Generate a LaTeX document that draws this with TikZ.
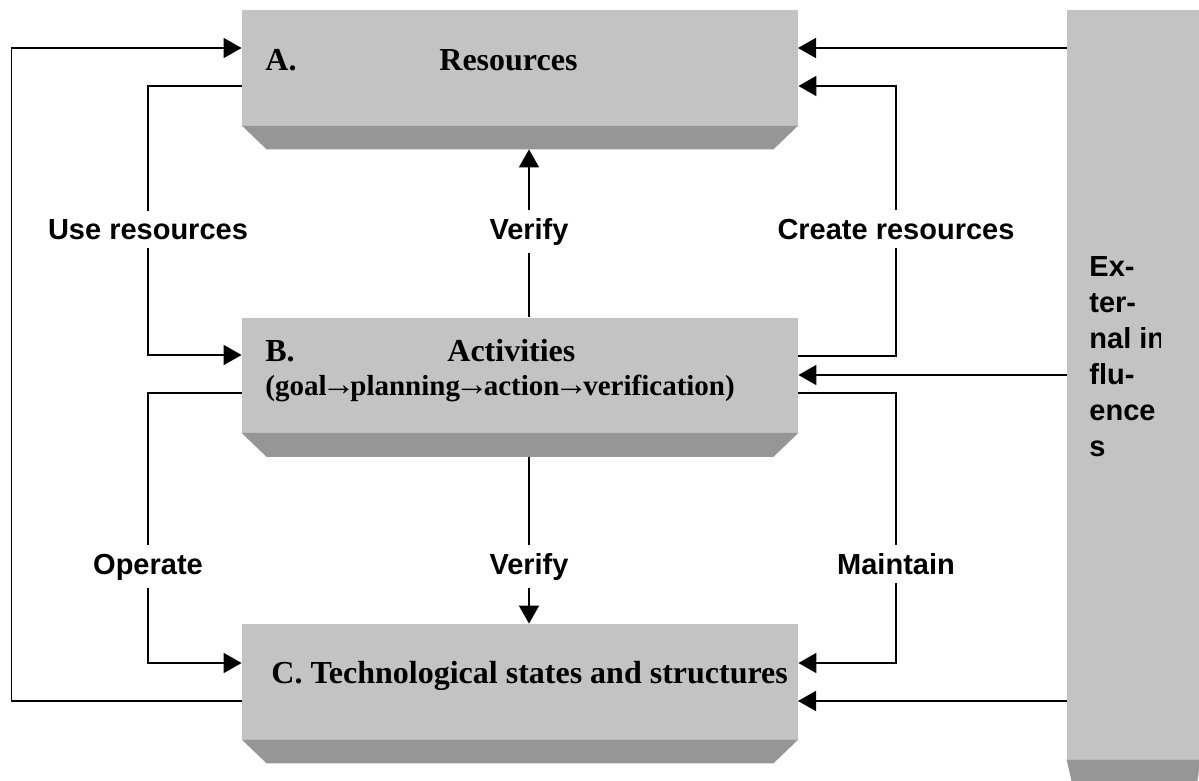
\documentclass[tikz,border=0pt]{standalone}
\usepackage{fontspec}
\setmainfont{Liberation Serif}
\setsansfont{Liberation Sans}
\usetikzlibrary{arrows.meta}

\definecolor{facegray}{RGB}{195,195,195}
\definecolor{bevelgray}{RGB}{150,150,150}
\newcommand{\stepto}{{\fontsize{17}{17}\selectfont\kern-0.15em→\kern-0.15em}}

\begin{document}
\begin{tikzpicture}[x=0.5pt,y=-0.5pt,
  face/.style={fill=facegray,minimum width=278pt,minimum height=57.5pt,inner sep=0pt},
  bevel/.style={fill=bevelgray},
  boxtxt/.style={font=\fontsize{16}{19}\selectfont\bfseries,inner sep=0pt,anchor=base west},
  lbl/.style={font=\fontsize{14.5}{18}\selectfont\sffamily\bfseries,inner sep=4pt,anchor=base},
  arr/.style={line width=0.8pt,-{Triangle[length=9pt,width=10pt]}}]
\useasboundingbox (0,0) rectangle (1199,781);

\node[face] (resA) at (520,67.5) {};
\node[face] (actB) at (520,375) {};
\node[face] (techC) at (520,681.5) {};
\node[face,minimum width=66.5pt,minimum height=374.5pt] (extD) at (1133.5,384.5) {};

\foreach \b in {resA,actB,techC}
  \fill[bevel] (\b.south west) -- (\b.south east) -- ++(-12.5pt,-12pt)
    -- ([xshift=12.5pt,yshift=-12pt]\b.south west) -- cycle;
\fill[bevel] (extD.south west) -- (extD.south east) -- ++(-1.5pt,-11pt)
  -- ([xshift=2.5pt,yshift=-11pt]extD.south west) -- cycle;

\node[boxtxt] (resAkey) at (265,71) {A.};
\node[boxtxt] (resAname) at (439,71) {Resources};
\node[boxtxt] (actBkey) at (265,361) {B.};
\node[boxtxt] (actBname) at (447,361) {Activities};
\node[boxtxt,font=\fontsize{14.5}{17}\selectfont\bfseries] (actBsteps) at (265,395)
  {(goal\stepto planning\stepto action\stepto verification)};
\node[boxtxt] (techCname) at (271,683) {C. Technological states and structures};

\begin{scope}
\clip (1067,10) rectangle (1160,759);
\node[lbl,anchor=north west,align=left,inner sep=0pt] (extTxt) at (1089,256)
  {Ex-\\ter-\\nal in\\flu-\\ence\\s};
\end{scope}

\node[lbl] (useRes) at (148,239) {Use resources};
\node[lbl] (verUp) at (529,239) {Verify};
\node[lbl] (creRes) at (896,239) {Create resources};
\node[lbl] (opeRes) at (148,574) {Operate};
\node[lbl] (verDn) at (529,574) {Verify};
\node[lbl] (maiRes) at (896,574) {Maintain};

\coordinate (inA) at (798,48);
\coordinate (inC) at (798,701);

\draw[arr] ([yshift=-9.75pt]techC.west) -- ++(-115pt,0) |- ([yshift=9.75pt]resA.west);
\draw[arr] ([yshift=-9.25pt]resA.west) -| (useRes) |- ([yshift=10pt]actB.west);
\draw[arr] ([xshift=4.5pt]actB.north) -- (verUp) -- ([xshift=4.5pt,yshift=-12pt]resA.south);
\draw[arr] ([yshift=9.5pt]actB.east) -| (creRes) |- ([yshift=-9.25pt]resA.east);
\draw[arr] ([yshift=-9pt]actB.west) -| (opeRes) |- ([yshift=9.25pt]techC.west);
\draw[arr] ([xshift=4.5pt,yshift=-12pt]actB.south) -- (verDn) -- ([xshift=4.5pt]techC.north);
\draw[arr] ([yshift=-9pt]actB.east) -| (maiRes) |- ([yshift=9.25pt]techC.east);

\draw[arr] (extD.west |- inA) -- (inA);
\draw[arr] (extD.west |- actB.east) -- (actB.east);
\draw[arr] (extD.west |- inC) -- (inC);

\end{tikzpicture}
\end{document}
